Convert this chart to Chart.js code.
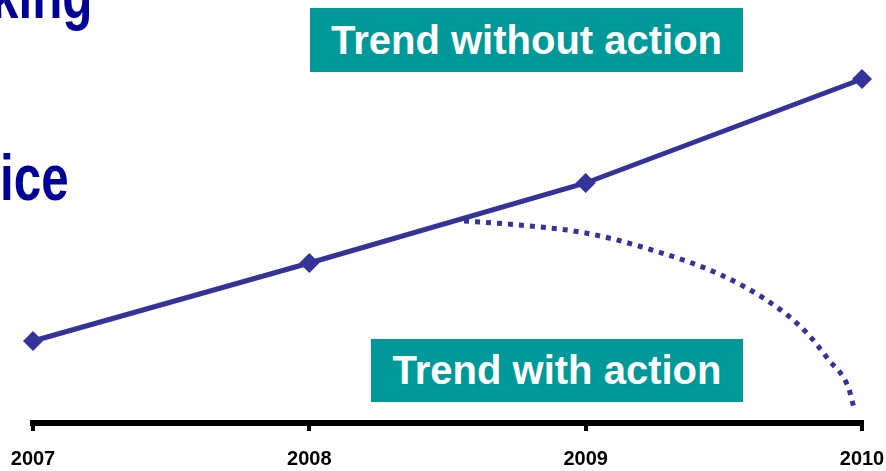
<!DOCTYPE html>
<html>
<head>
<meta charset="utf-8">
<script src="https://cdn.jsdelivr.net/npm/chart.js@4"></script>
<style>
  html, body { margin: 0; padding: 0; background: #fff; overflow: hidden; }
  #wrap { position: relative; width: 886px; height: 471px; overflow: hidden; }
  #chartBox { position: absolute; left: 0; top: 0; width: 886px; height: 471px; }
  .title {
    position: absolute;
    font-family: 'Liberation Sans', Arial, sans-serif;
    font-weight: bold;
    font-size: 65px;
    line-height: 65px;
    color: #000099;
    white-space: nowrap;
    transform: scaleX(0.76);
    transform-origin: left top;
  }
  .tag {
    position: absolute;
    background: #009999;
    color: #fff;
    font-family: 'Liberation Sans', Arial, sans-serif;
    font-weight: bold;
    font-size: 40px;
    text-align: center;
    white-space: nowrap;
  }
</style>
</head>
<body>
<div id="wrap">
  <div id="chartBox"><canvas id="trendChart"></canvas></div>
  <div class="title" style="left:-9px; top:-37px;">king</div>
  <div class="title" style="left:0px; top:145px;">ice</div>
  <div class="tag" style="left:310px; top:8px; width:433px; height:64px; line-height:64px;">Trend without action</div>
  <div class="tag" style="left:371px; top:339px; width:372px; height:63px; line-height:63px;">Trend with action</div>
</div>
<script>
const years = [2007, 2008, 2009, 2010];
const tickLabels = ['2007', '2008', '2009', '2010'];
const withoutAction = [20.5, 40, 60, 86];

// dotted "with action" curve
const withActionYears = [2008.56, 2008.76, 2009.0, 2009.24, 2009.49, 2009.67, 2009.79, 2009.88, 2009.95, 2009.97];
const withAction = [50.5, 49.5, 47.5, 43.25, 37, 30, 23.25, 15.75, 9, 4];

const lineColor = '#333399';

document.addEventListener("DOMContentLoaded", () => {
  renderTrendChart('trendChart');
});

function renderTrendChart(canvasId) {
  new Chart(document.getElementById(canvasId), {
    type: 'line',
    data: {
      datasets: [
        {
          label: 'Trend without action',
          data: years.map((y, i) => ({ x: y, y: withoutAction[i] })),
          borderColor: lineColor,
          backgroundColor: lineColor,
          borderWidth: 5,
          pointStyle: 'rectRot',
          pointRadius: 10,
          pointBorderWidth: 0,
          tension: 0,
          clip: false
        },
        {
          label: 'Trend with action',
          data: withActionYears.map((y, i) => ({ x: y, y: withAction[i] })),
          borderColor: lineColor,
          borderWidth: 5,
          borderDash: [5, 6],
          borderCapStyle: 'butt',
          pointRadius: 0,
          cubicInterpolationMode: 'monotone',
          clip: false
        }
      ]
    },
    options: {
      responsive: true,
      maintainAspectRatio: false,
      animation: false,
      layout: { autoPadding: false, padding: { top: 23, left: 33, right: 24, bottom: -16 } },
      plugins: { legend: { display: false }, tooltip: { enabled: false } },
      scales: {
        x: {
          type: 'linear',
          min: 2007,
          max: 2010,
          afterFit: (scale) => { scale.paddingLeft = 0; scale.paddingRight = 0; },
          border: { display: true, color: '#000', width: 6 },
          grid: { drawOnChartArea: false, drawTicks: true, tickLength: 8, color: '#000', lineWidth: 4 },
          ticks: {
            stepSize: 1,
            padding: 16,
            color: '#000',
            font: { family: "'Liberation Sans', Arial, sans-serif", weight: 'bold', size: 20 },
            callback: (v) => tickLabels[years.indexOf(v)] ?? ''
          }
        },
        y: {
          display: false,
          min: 0,
          max: 100
        }
      }
    }
  });
}
</script>
</body>
</html>
